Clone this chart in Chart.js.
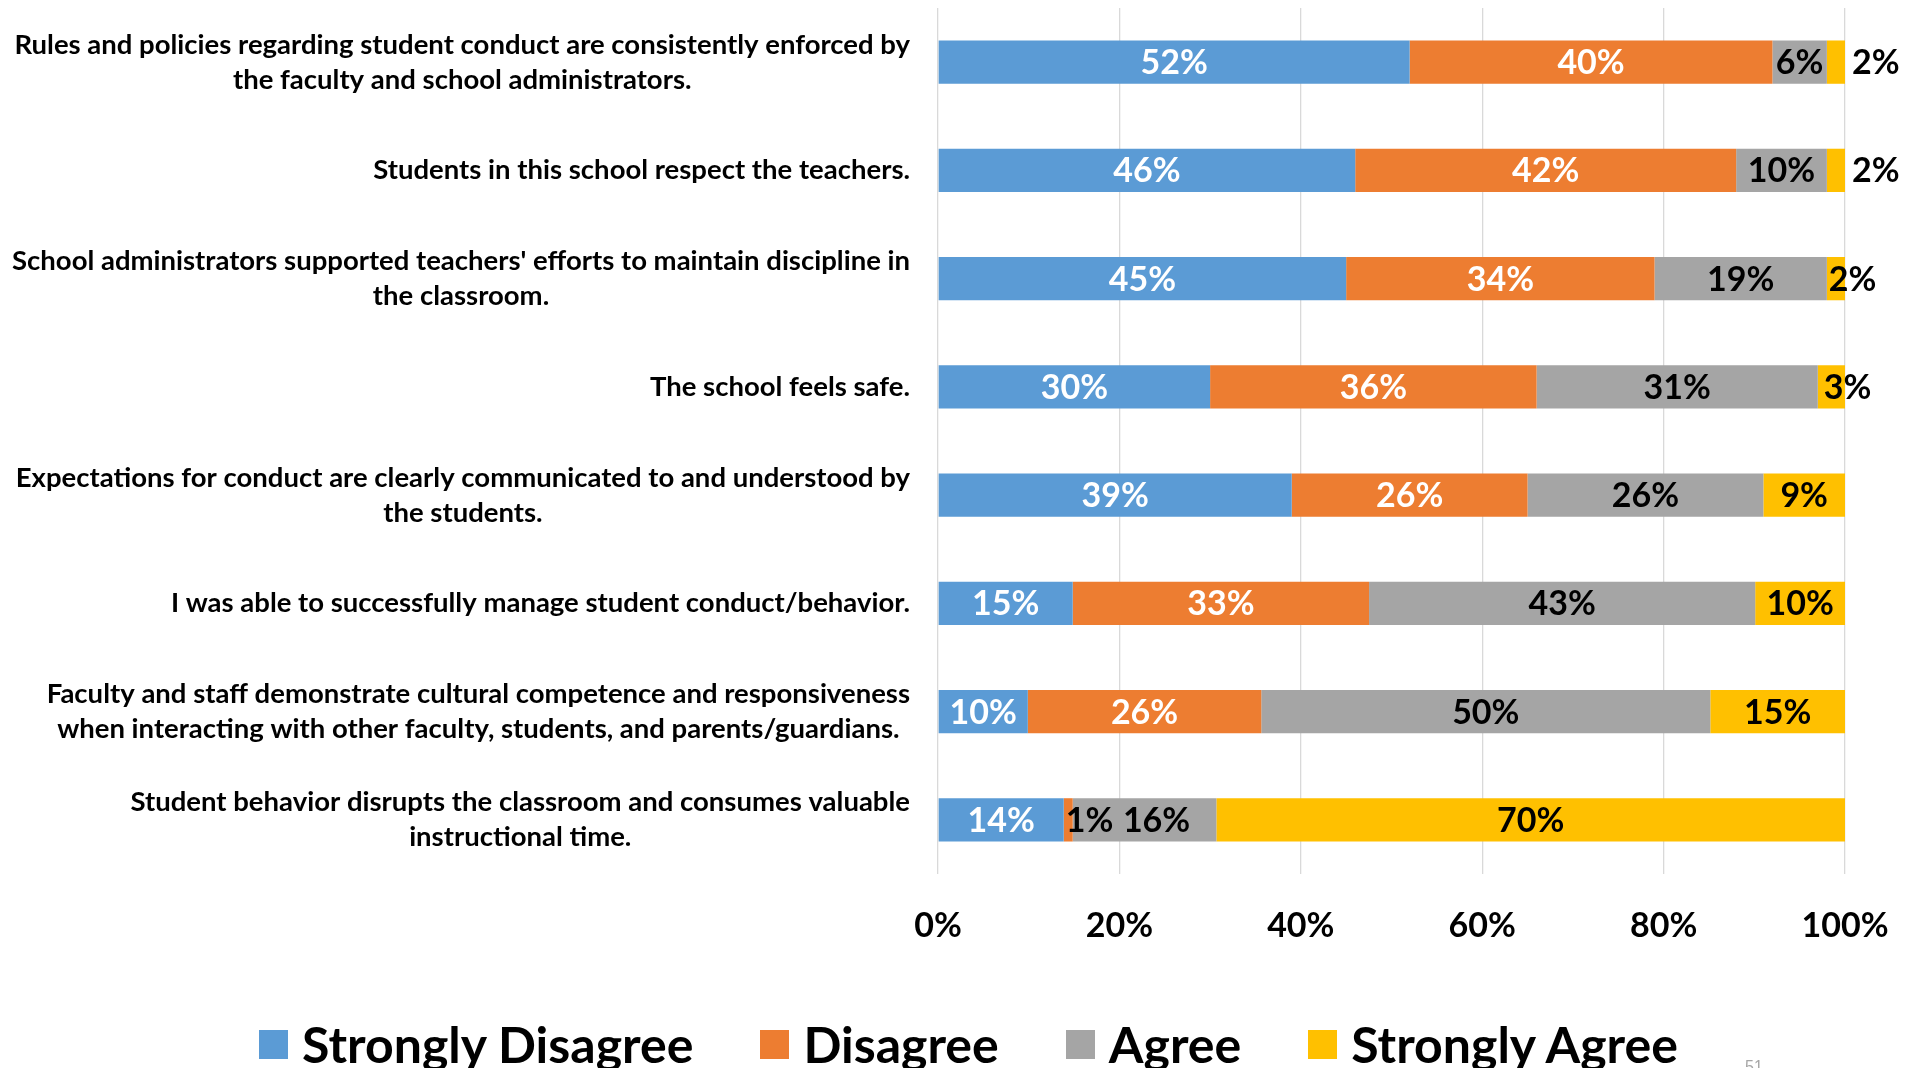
<!DOCTYPE html>
<html>
<head>
<meta charset="utf-8">
<title>Student conduct survey</title>
<script src="https://cdn.jsdelivr.net/npm/chart.js@4.4.1/dist/chart.umd.min.js"></script>
<style>
  html, body { margin: 0; padding: 0; background: #fff; }
  body { width: 1907px; height: 1068px; position: relative; overflow: hidden; font-family: Lato, "Noto Sans", sans-serif; }
  #chart { position: absolute; left: 0; top: 0; }
  #legend { position: absolute; left: 30px; right: 0; top: 1018px; height: 52px;
            display: flex; justify-content: center; align-items: center;
            font-weight: 700; font-size: 50px; color: #000; white-space: nowrap; }
  .item { display: flex; align-items: center; margin-right: 67px; }
  .item:last-child { margin-right: 0; }
  .swatch { width: 29px; height: 29px; margin-right: 14px; }
  #page { position: absolute; left: 1745px; top: 1058px; font: 16px "Liberation Sans", sans-serif; color: #a6a6a6; }
</style>
</head>
<body>
<canvas id="chart" width="1907" height="1068"></canvas>
<div id="legend"></div>
<div id="page">51</div>
<script>
// Survey statements (multi-line labels are centred as a block)
const statements = [
  ["Rules and policies regarding student conduct are consistently enforced by", "the faculty and school administrators."],
  ["Students in this school respect the teachers."],
  ["School administrators supported teachers' efforts to maintain discipline in", "the classroom."],
  ["The school feels safe."],
  ["Expectations for conduct are clearly communicated to and understood by", "the students."],
  ["I was able to successfully manage student conduct/behavior."],
  ["Faculty and staff demonstrate cultural competence and responsiveness", "when interacting with other faculty, students, and parents/guardians."],
  ["Student behavior disrupts the classroom and consumes valuable", "instructional time."],
];

// Response shares in percent, one value per statement
const stronglyDisagree = [52, 46, 45, 30, 39, 15, 10, 14];
const disagree         = [40, 42, 34, 36, 26, 33, 26, 1];
const agree            = [6, 10, 19, 31, 26, 43, 50, 16];
const stronglyAgree    = [2, 2, 2, 3, 9, 10, 15, 70];

const xTicks = [0, 20, 40, 60, 80, 100];

const COLORS = {
  sd: "#5b9bd5",
  d: "#ed7d31",
  a: "#a5a5a5",
  sa: "#ffc000",
  grid: "#d9d9d9",
};
const FONT = "Lato";

// 100% stacked: each row is scaled to its own total
const rowTotals = statements.map((_, i) => stronglyDisagree[i] + disagree[i] + agree[i] + stronglyAgree[i]);
const share = (arr) => arr.map((v, i) => (v / rowTotals[i]) * 100);

function series(label, values, color, labelColor) {
  return {
    label,
    data: share(values),
    raw: values,
    backgroundColor: color,
    labelColor,
    borderWidth: 0,
    barPercentage: 0.4,
    categoryPercentage: 1.0,
  };
}

// Value labels inside the segments; narrow segments get their label pushed out (in black)
const barLabels = {
  id: "barLabels",
  afterDatasetsDraw(chart, args, opts) {
    const ctx = chart.ctx;
    ctx.save();
    ctx.font = `bold ${opts.size}px ${FONT}`;
    ctx.textBaseline = "middle";
    chart.data.datasets.forEach((ds, di) => {
      const meta = chart.getDatasetMeta(di);
      meta.data.forEach((bar, i) => {
        const text = ds.raw[i] + "%";
        const left = Math.min(bar.base, bar.x);
        const right = Math.max(bar.base, bar.x);
        const w = ctx.measureText(text).width;
        let x = (left + right) / 2;
        ctx.textAlign = "center";
        ctx.fillStyle = ds.labelColor;
        if (w > right - left) {
          ctx.textAlign = "left";
          ctx.fillStyle = "#000";
          const mode = opts.overflow[di + "-" + i] || "start";
          x = mode === "after" ? chart.chartArea.right + 7 : left + 2;
        }
        x += opts.nudge[di + "-" + i] || 0;
        ctx.fillText(text, x, bar.y + 1);
      });
    });
    ctx.restore();
  },
};

// Statement labels left of the plot, right-aligned as a block
const categoryLabels = {
  id: "categoryLabels",
  afterDraw(chart, args, opts) {
    const ctx = chart.ctx;
    const yScale = chart.scales.y;
    ctx.save();
    ctx.font = `bold ${opts.size}px ${FONT}`;
    ctx.fillStyle = "#000";
    ctx.textAlign = "center";
    ctx.textBaseline = "middle";
    const right = chart.chartArea.left - opts.gap;
    chart.data.labels.forEach((lines, i) => {
      const widest = Math.max(...lines.map((l) => ctx.measureText(l).width));
      const cx = right - widest / 2;
      const cy = yScale.getPixelForTick(i);
      lines.forEach((l, k) => ctx.fillText(l, cx, cy + (k - (lines.length - 1) / 2) * opts.lineHeight));
    });
    ctx.restore();
  },
};

function buildLegend(chart) {
  const box = document.getElementById("legend");
  chart.data.datasets.forEach((ds) => {
    const item = document.createElement("div");
    item.className = "item";
    const sw = document.createElement("span");
    sw.className = "swatch";
    sw.style.background = ds.backgroundColor;
    const txt = document.createElement("span");
    txt.textContent = ds.label;
    item.appendChild(sw);
    item.appendChild(txt);
    box.appendChild(item);
  });
}

function draw() {
  const chart = new Chart(document.getElementById("chart"), {
    type: "bar",
    data: {
      labels: statements,
      datasets: [
        series("Strongly Disagree", stronglyDisagree, COLORS.sd, "#fff"),
        series("Disagree", disagree, COLORS.d, "#fff"),
        series("Agree", agree, COLORS.a, "#000"),
        series("Strongly Agree", stronglyAgree, COLORS.sa, "#000"),
      ],
    },
    options: {
      indexAxis: "y",
      responsive: false,
      animation: false,
      devicePixelRatio: 1,
      layout: { padding: { top: 8, right: 62, left: 0, bottom: 0 } },
      plugins: {
        legend: { display: false },
        tooltip: { enabled: false },
        barLabels: {
          size: 34,
          overflow: { "3-0": "after", "3-1": "after" },
          nudge: { "3-3": 4, "2-7": 12 },
        },
        categoryLabels: { size: 27.5, gap: 28, lineHeight: 35 },
      },
      scales: {
        x: {
          stacked: true,
          min: 0,
          max: 100,
          afterBuildTicks: (s) => { s.ticks = xTicks.map((v) => ({ value: v })); },
          ticks: {
            callback: (v) => v + "%",
            color: "#000",
            font: { family: FONT, weight: "bold", size: 34 },
            padding: 0,
            maxRotation: 0,
          },
          // invisible tick marks keep the labels well below the plot
          grid: { color: COLORS.grid, lineWidth: 1.3, drawTicks: true, tickLength: 32, tickColor: "rgba(0,0,0,0)" },
          border: { display: false },
          afterFit: (s) => { s.height = 194; },
        },
        y: {
          stacked: true,
          ticks: { display: false },
          grid: { display: false },
          border: { display: false },
          afterFit: (s) => { s.width = 938; },
        },
      },
    },
    plugins: [barLabels, categoryLabels],
  });
  buildLegend(chart);
}

document.fonts.load(`bold 34px ${FONT}`).then(draw, draw);
</script>
</body>
</html>
